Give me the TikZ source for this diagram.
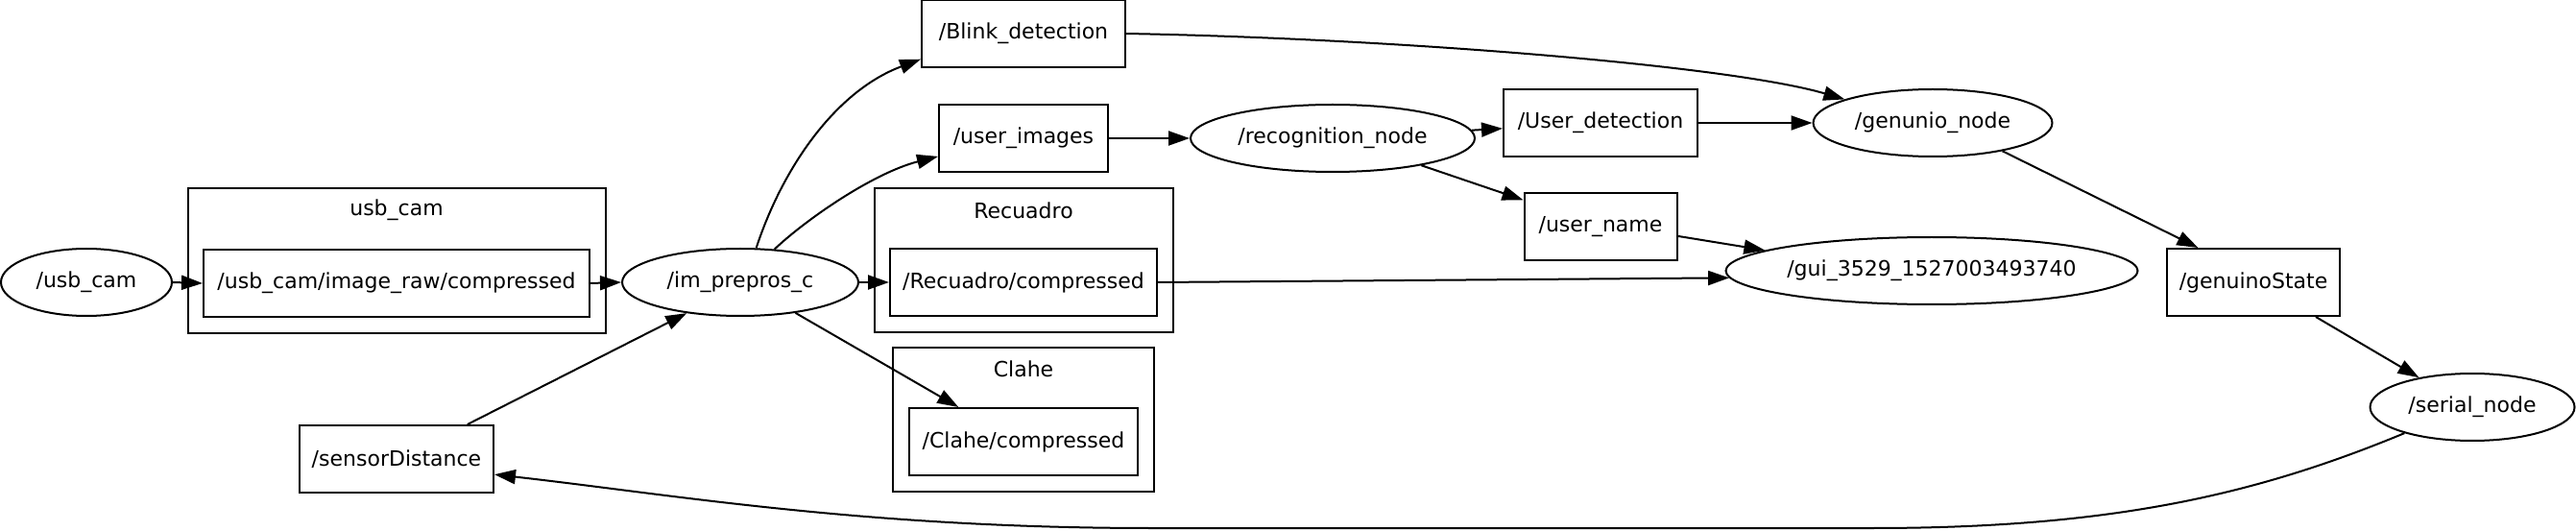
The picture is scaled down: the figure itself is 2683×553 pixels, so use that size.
\documentclass[tikz,border=0pt]{standalone}
\usepackage{fontspec}
\setmainfont{DejaVu Sans}
\usepackage{tikz}
\usetikzlibrary{arrows.meta, shapes.geometric, positioning, calc}
\tikzset{
  % ROS nodes (ellipses) and topics (boxes), graphviz look
  rosnode/.style={ellipse, draw, line width=2pt, inner sep=0pt,
    font=\fontsize{22}{26}\selectfont},
  topic/.style={rectangle, draw, line width=2pt, inner sep=0pt,
    minimum height=70pt, font=\fontsize{22}{26}\selectfont},
  % namespace clusters
  grp/.style={draw, line width=1.5pt},
  grptitle/.style={font=\fontsize{22}{26}\selectfont},
  A/.style={-{Triangle[length=22pt,width=15pt]}, line width=2pt},
}

\begin{document}
\begin{tikzpicture}[x=1pt, y=-1pt]
\useasboundingbox (0,0) rectangle (2683,553);

% =====================================================================
% CAMERA INPUT  (left)
% =====================================================================

\node[rosnode, minimum width=178pt, minimum height=70pt] (usbcam) at (90,294) {/usb\_cam};

\draw[grp] (196,196) rectangle (631,347);
\node[grptitle] (usbcamT) at (413,219) {usb\_cam};
\node[topic, minimum width=402pt] (imgraw) at (413,295) {/usb\_cam/image\_raw/compressed};
\draw[A] (usbcam.east) -- (imgraw.west);

\node[rosnode, minimum width=246pt, minimum height=70pt] (imprep) at (771,294) {/im\_prepros\_c};
\draw[A] (imgraw.east) -- (imprep.west);

\node[topic, minimum width=202pt] (sensor) at (413,478) {/sensorDistance};
\draw[A] (sensor.26) -- (imprep.210);

% =====================================================================
% PREPROCESSING OUTPUTS
% =====================================================================

\node[topic, minimum width=212pt] (blink) at (1066,35) {/Blink\_detection};
\draw[A] (imprep.65) .. controls (815,175) and (870,95) .. (blink.194);

\node[topic, minimum width=176pt] (userimg) at (1066,144) {/user\_images};
\draw[A] (imprep.44) .. controls (840,228) and (910,180) .. (userimg.192);

\draw[grp] (911,196) rectangle (1222,346);
\node[grptitle] (recuT) at (1066,219) {Recuadro};
\node[topic, minimum width=278pt] (recuadro) at (1066,294) {/Recuadro/compressed};
\draw[A] (imprep.east) -- (recuadro.west);

\draw[grp] (930,362) rectangle (1202,512);
\node[grptitle] (claheT) at (1066,384) {Clahe};
\node[topic, minimum width=238pt] (clahe) at (1066,460) {/Clahe/compressed};
\draw[A] (imprep.-29) -- (clahe.152);

% ── recognition ──────────────────────────────────────────────────────
\node[rosnode, minimum width=296pt, minimum height=70pt] (recog) at (1388,144) {/recognition\_node};
\draw[A] (userimg.east) -- (recog.west);

\node[topic, minimum width=202pt] (userdet) at (1667,128) {/User\_detection};
\draw[A] (recog) -- (userdet);

\node[topic, minimum width=159pt] (username) at (1667,236) {/user\_name};
\draw[A] (recog.-17) -- (username.161);

% =====================================================================
% OUTPUT SIDE  (right)
% =====================================================================

\node[rosnode, minimum width=249pt, minimum height=70pt] (genunio) at (2013,128) {/genunio\_node};
\draw[A] (userdet.east) -- (genunio.west);
\draw[A] (blink.east) .. controls (1450,40) and (1800,68) .. (genunio.165);

\node[rosnode, minimum width=429pt, minimum height=70pt] (gui) at (2012,282) {/gui\_3529\_1527003493740};
\draw[A] (username.-7) -- (gui.173);
\draw[A] (recuadro.east) -- (gui.182);

\node[topic, minimum width=180pt] (genstate) at (2347,294) {/genuinoState};
\draw[A] (genunio.-22) -- (genstate.148);

\node[rosnode, minimum width=213pt, minimum height=70pt] (serial) at (2575,424) {/serial\_node};
\draw[A] (genstate.-29) -- (serial.151);

% ── feedback to the distance sensor ─────────────────────────────────
\coordinate (lowR) at (1950,550);
\coordinate (lowL) at (1200,550);
\draw[A] (serial.201) .. controls (2350,515) and (2200,550) .. (lowR)
  -- (lowL) .. controls (900,550) and (700,515) .. (sensor.-9);

\end{tikzpicture}
\end{document}
